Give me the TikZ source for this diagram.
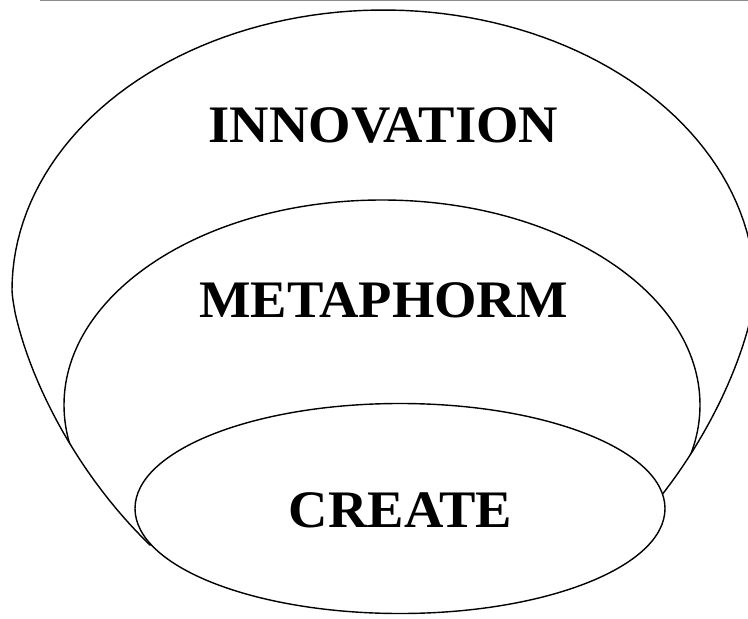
\documentclass[tikz,border=0pt]{standalone}
\usepackage{fontspec}
\setmainfont{Liberation Serif}
\begin{document}
\begin{tikzpicture}[x=0.02cm,y=-0.02cm,
  ring/.style={draw=black,line width=0.8pt},
  lbl/.style={font=\fontsize{30}{35}\selectfont\bfseries,inner sep=0pt,anchor=base,text=black,xscale=1.035}]
\useasboundingbox (0,0) rectangle (748,619);
\clip (0,0) rectangle (748,619);
\fill[white] (0,0) rectangle (748,619);
\draw[black!45, line width=0.8pt] (40,0.6) -- (748,0.6);
% outer (innovation) shape
\draw[ring] plot[domain=180:360,samples=90] ({383.5+371.5*cos(\x)},{290+280*sin(\x)})
  -- plot[domain=0.5:42.3,samples=30] ({383.5+371.5*cos(\x)},{290+359*pow(sin(\x),1.36)})
  -- (400,560)
  -- plot[domain=129:179.5,samples=30] ({383.5+371.5*cos(\x)},{290+359*pow(sin(\x),1.36)})
  -- cycle;
% middle (metaphorm) ellipse, kept inside the outer shape
\begin{scope}
  \clip plot[domain=180:360,samples=90] ({383.5+371.5*cos(\x)},{290+280*sin(\x)})
  -- plot[domain=0.5:42.3,samples=30] ({383.5+371.5*cos(\x)},{290+359*pow(sin(\x),1.36)})
  -- (400,560)
  -- plot[domain=129:179.5,samples=30] ({383.5+371.5*cos(\x)},{290+359*pow(sin(\x),1.36)})
  -- cycle;
  \draw[ring] (382,405) ellipse [x radius=318, y radius=205];
\end{scope}
% inner (create) ellipse
\draw[ring, fill=white] (400,508.5) ellipse [x radius=265, y radius=105];
\node[lbl] (innovation) at (383.5,142) {INNOVATION};
\node[lbl] (metaphorm) at (383.5,317) {METAPHORM};
\node[lbl] (create) at (400.5,527) {CREATE};
\end{tikzpicture}
\end{document}
